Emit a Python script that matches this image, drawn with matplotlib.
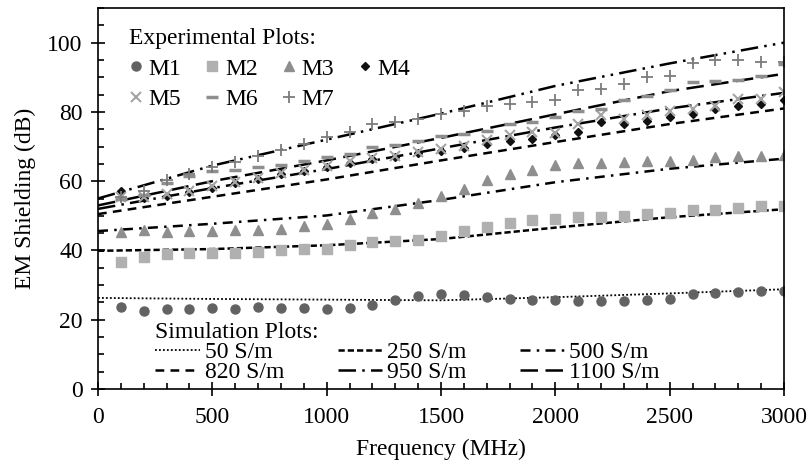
import numpy as np
import matplotlib
matplotlib.use("Agg")
import matplotlib.pyplot as plt
from matplotlib.ticker import MultipleLocator

plt.rcParams['font.family'] = ['Liberation Serif', 'DejaVu Serif']
plt.rcParams['font.size'] = 17

# ---- experimental data (every 100 MHz) ----
freq = np.arange(100, 3001, 100)

m1 = [23.7, 22.6, 23.0, 23.0, 23.5, 23.2, 23.7, 23.5, 23.5, 23.0,
      23.5, 24.2, 25.6, 26.8, 27.4, 27.1, 26.6, 26.1, 25.6, 25.6,
      25.4, 25.4, 25.4, 25.8, 26.1, 27.3, 27.6, 28.0, 28.3, 28.2]
m2 = [36.6, 38.1, 38.9, 39.3, 39.3, 39.3, 39.6, 40.2, 40.5, 40.5,
      41.5, 42.3, 42.7, 43.1, 44.1, 45.6, 46.8, 48.0, 48.7, 49.2,
      49.7, 49.7, 49.9, 50.4, 50.9, 51.6, 51.8, 52.4, 52.8, 52.7]
m3 = [45.3, 45.8, 45.3, 45.6, 45.6, 45.8, 45.8, 46.3, 47.0, 47.7,
      49.2, 50.9, 52.1, 53.7, 55.7, 57.8, 60.2, 62.1, 63.3, 64.6,
      65.2, 65.2, 65.5, 65.8, 65.8, 66.2, 66.9, 67.4, 67.4, 67.7]
m4 = [57.1, 55.2, 55.8, 57.0, 58.0, 59.5, 60.5, 62.0, 63.0, 64.0,
      65.3, 66.3, 67.0, 68.0, 68.7, 69.6, 70.8, 71.6, 72.2, 73.2,
      74.2, 77.0, 76.6, 77.5, 78.5, 79.4, 80.9, 81.8, 82.3, 83.5]
m5 = [55.5, 55.4, 56.4, 57.3, 58.5, 59.8, 60.9, 62.3, 63.3, 64.3,
      65.8, 66.7, 67.4, 68.4, 69.2, 70.3, 71.8, 73.2, 74.2, 74.0,
      76.6, 79.0, 78.0, 79.0, 80.4, 80.9, 81.8, 83.8, 83.8, 85.7]
m6 = [55.0, 56.0, 59.5, 61.5, 63.0, 63.3, 64.1, 64.8, 65.8, 66.9,
      67.9, 69.8, 70.5, 71.5, 73.0, 73.7, 74.6, 76.6, 77.0, 78.5,
      80.4, 80.9, 83.3, 84.7, 86.2, 88.6, 88.8, 89.2, 90.5, 93.8]
m7 = [55.5, 57.2, 60.2, 62.2, 64.1, 65.5, 67.4, 68.9, 70.8, 72.7,
      74.2, 76.6, 77.0, 78.0, 79.3, 80.2, 81.6, 82.3, 82.8, 83.5,
      86.2, 86.7, 88.1, 90.0, 90.5, 94.0, 95.0, 95.0, 94.3, 94.5]

# ---- simulation curves ----
sim_f = [0, 500, 1000, 1500, 2000, 2500, 3000]
s50 = [26.3, 26.0, 25.8, 25.6, 26.5, 27.6, 28.8]
s250 = [39.9, 40.4, 41.5, 43.3, 46.6, 49.6, 51.9]
s500 = [45.6, 47.7, 50.1, 54.6, 59.7, 63.6, 66.5]
s820 = [50.5, 55.5, 60.5, 66.0, 71.3, 76.5, 81.0]
s950 = [52.0, 58.0, 63.5, 69.5, 75.5, 81.0, 85.5]
s1100 = [53.0, 60.0, 66.0, 72.5, 79.3, 86.0, 91.0]
s_top = [55.0, 64.5, 72.0, 79.5, 87.5, 94.0, 100.0]

fig = plt.figure(figsize=(8.09, 4.67), dpi=100)
ax = fig.add_axes([98/809, 78/467, 686/809, 381/467])

# simulation lines
lw = 1.8
l50, = ax.plot(sim_f, s50, color='black', lw=1.3, ls=(0, (1, 1.2)))
l250, = ax.plot(sim_f, s250, color='black', lw=lw, ls=(0, (2.5, 1.2)))
l500, = ax.plot(sim_f, s500, color='black', lw=lw, ls=(0, (4, 2.5, 1, 2.5)))
l820, = ax.plot(sim_f, s820, color='black', lw=lw, ls=(0, (3.5, 2.5)))
l950, = ax.plot(sim_f, s950, color='black', lw=lw, ls=(0, (7, 2.5, 1, 2.5)))
l1100, = ax.plot(sim_f, s1100, color='black', lw=lw, ls=(0, (7, 3)))
ax.plot(sim_f, s_top, color='black', lw=lw, ls=(0, (7, 2.5, 1, 2.5, 1, 2.5)))

# experimental markers
p1, = ax.plot(freq, m1, 'o', color='#626262', ms=6.5, ls='none')
p2, = ax.plot(freq, m2, 's', color='#b0b0b0', ms=6.5, ls='none')
p3, = ax.plot(freq, m3, '^', color='#8e8e8e', ms=7, ls='none')
p4, = ax.plot(freq, m4, 'D', color='#111111', ms=4.5, ls='none')
p5, = ax.plot(freq, m5, 'x', color='#a4a4a4', ms=7.5, mew=1.5, ls='none')
p6, = ax.plot(freq, m6, '_', color='#8e8e8e', ms=8, mew=2.5, ls='none')
p7, = ax.plot(freq, m7, '+', color='#7c7c7c', ms=8.5, mew=1.3, ls='none')

ax.set_xlim(0, 3000)
ax.set_ylim(0, 110)
ax.set_xticks(range(0, 3001, 500))
ax.set_yticks(range(0, 101, 20))
ax.xaxis.set_minor_locator(MultipleLocator(100))
ax.yaxis.set_minor_locator(MultipleLocator(5))
ax.tick_params(which='major', direction='inout', length=10, width=1.2, color='black')
ax.tick_params(which='minor', direction='in', length=4, width=1.2, color='black')
ax.tick_params(axis='x', labelsize=17, pad=8)
ax.tick_params(axis='y', labelsize=17, pad=6)
for s in ax.spines.values():
    s.set_linewidth(1.2)

ax.set_xlabel('Frequency (MHz)', fontsize=17, labelpad=8)
ax.set_ylabel('EM Shielding (dB)', fontsize=17, labelpad=8)

# legends (column-first ordering)
exp_h = [p1, p5, p2, p6, p3, p7, p4]
exp_l = ['M1', 'M5', 'M2', 'M6', 'M3', 'M7', 'M4']
leg1 = ax.legend(exp_h, exp_l, title='Experimental Plots:', alignment='left',
                 ncol=4, frameon=False, loc='upper left',
                 bbox_to_anchor=(0.031, 0.972), borderaxespad=0,
                 handlelength=0.6, handletextpad=0.25, columnspacing=1.0,
                 labelspacing=0.38, fontsize=17, title_fontsize=17)
ax.add_artist(leg1)

sim_h = [l50, l820, l250, l950, l500, l1100]
sim_l = ['50 S/m', '820 S/m', '250 S/m', '950 S/m', '500 S/m', '1100 S/m']
ax.legend(sim_h, sim_l, title='Simulation Plots:', alignment='left',
          ncol=3, frameon=False, loc='lower left',
          bbox_to_anchor=(0.07, -0.01), borderaxespad=0,
          handlelength=1.9, handletextpad=0.2, columnspacing=2.25,
          labelspacing=-0.05, fontsize=17, title_fontsize=17)

fig.savefig('out.png', dpi=100)
